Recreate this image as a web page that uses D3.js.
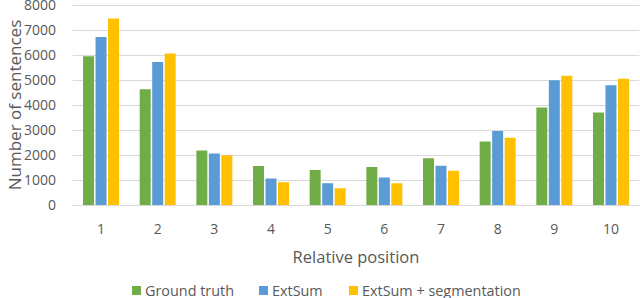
<!DOCTYPE html>
<html><head><meta charset="utf-8">
<script src="https://cdn.jsdelivr.net/npm/d3@7"></script>
<style>body{margin:0;background:#fff}svg{display:block}text{font-family:"Open Sans",sans-serif;fill:#595959}</style>
</head><body><svg id="c" width="640" height="298"></svg>
<script>
const categories = ["1","2","3","4","5","6","7","8","9","10"];
const seriesNames = ["Ground truth","ExtSum","ExtSum + segmentation"];
const groundTruth = [5950,4630,2180,1560,1400,1520,1870,2540,3900,3700];
const extSum = [6720,5720,2060,1060,870,1100,1570,2960,4990,4790];
const extSumSeg = [7460,6060,1990,910,670,870,1370,2690,5170,5050];
const yTicks = [0,1000,2000,3000,4000,5000,6000,7000,8000];
const colors = ["#70AD47","#5B9BD5","#FFC000"];
const seriesValues = [groundTruth, extSum, extSumSeg];

const svg = d3.select("#c");
const mLeft = 72.7, mRight = 639.3, mTop = 5, mBottom = 205;
const y = d3.scaleLinear().domain([0,8000]).range([mBottom, mTop]);
const x0 = d3.scaleBand().domain(categories).range([mLeft,mRight]).paddingInner(0.365).paddingOuter(0.1825);
const x1 = d3.scaleBand().domain(seriesNames).range([0,x0.bandwidth()]).paddingInner(0.12);

// gridlines
svg.append("g").selectAll("line").data(yTicks).join("line")
  .attr("x1",mLeft).attr("x2",mRight)
  .attr("y1",d=>Math.round(y(d))+0.5).attr("y2",d=>Math.round(y(d))+0.5)
  .attr("stroke","#D9D9D9").attr("stroke-width",1);

// y tick labels
svg.append("g").selectAll("text").data(yTicks).join("text")
  .attr("x",56).attr("y",d=>y(d)).attr("dy","0.36em")
  .attr("text-anchor","end").style("font-size","14px").text(d=>d);

// bars
const g = svg.append("g");
categories.forEach((c,i)=>{
  seriesNames.forEach((s,j)=>{
    const v = seriesValues[j][i];
    g.append("rect").attr("x",x0(c)+x1(s)).attr("width",x1.bandwidth())
      .attr("y",y(v)).attr("height",y(0)-y(v)).attr("fill",colors[j]);
  });
});

// x axis labels
svg.append("g").selectAll("text").data(categories).join("text")
  .attr("x",d=>x0(d)+x0.bandwidth()/2).attr("y",234)
  .attr("text-anchor","middle").style("font-size","14px").text(d=>d);

svg.append("text").attr("x",(mLeft+mRight)/2).attr("y",263).attr("text-anchor","middle")
  .style("font-size","16.5px").text("Relative position");

svg.append("text").attr("transform",`translate(21,${(mTop+mBottom)/2}) rotate(-90)`)
  .attr("text-anchor","middle").style("font-size","17px").text("Number of sentences");

// legend
const legendX = [132, 259, 349];
const lg = svg.append("g");
seriesNames.forEach((s,j)=>{
  lg.append("rect").attr("x",legendX[j]).attr("y",286).attr("width",9).attr("height",9).attr("fill",colors[j]);
  lg.append("text").attr("x",legendX[j]+13).attr("y",295.5).style("font-size","14.4px").text(s);
});
</script></body></html>
